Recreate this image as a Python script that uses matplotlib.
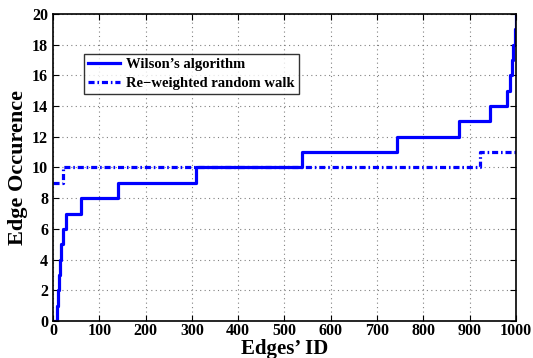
import matplotlib.pyplot as plt

# step breakpoints (edge ID where the count changes)
wilson_x = [4, 8, 11, 13, 15, 17, 21, 28, 60, 140, 308, 538, 743, 877, 944, 981, 987, 991, 994, 997, 1000]
wilson_y = [0, 1, 2, 3, 4, 5, 6, 7, 8, 9, 10, 11, 12, 13, 14, 15, 16, 17, 18, 19, 20]

rw_x = [1, 22, 922, 1000]
rw_y = [9, 10, 11, 11]

xticks = list(range(0, 1001, 100))
yticks = list(range(0, 21, 2))

plt.rcParams['font.family'] = ['Liberation Serif', 'DejaVu Serif']
plt.rcParams['font.weight'] = 'bold'

fig = plt.figure(figsize=(5.33, 3.58), dpi=100)
ax = fig.add_axes([0.0994, 0.1034, 0.8686, 0.8576])

ax.plot(wilson_x, wilson_y, drawstyle='steps-post', color='#0000ff', lw=2.3,
        label='Wilson’s algorithm')
ax.plot(rw_x, rw_y, drawstyle='steps-post', color='#0000ff', lw=2.3,
        linestyle=(0, (1.9, 0.9, 0.5, 0.9)), label='Re−weighted random walk')

ax.set_xlim(0, 1000)
ax.set_ylim(0, 20)
ax.set_xticks(xticks)
ax.set_yticks(yticks)
ax.tick_params(direction='in', top=True, right=True, labelsize=11.5, length=4)
ax.tick_params(axis='x', pad=1.5)
ax.tick_params(axis='y', pad=3.5)
for lab in ax.get_xticklabels() + ax.get_yticklabels():
    lab.set_fontweight('bold')
for s in ax.spines.values():
    s.set_linewidth(1.2)
ax.grid(True, linestyle=(0, (1, 3)), color='#808080', lw=0.8)

ax.set_xlabel('Edges’ ID', fontsize=15, fontweight='bold', labelpad=0)
ax.set_ylabel('Edge Occurence', fontsize=16, fontweight='bold', labelpad=3)

leg = ax.legend(loc='upper left', bbox_to_anchor=(0.067, 0.87), fontsize=10.5,
                frameon=True, fancybox=False, edgecolor='black', handlelength=2.2,
                handletextpad=0.4, borderpad=0.3, labelspacing=0.35, borderaxespad=0)
leg.get_frame().set_linewidth(1.0)
for t in leg.get_texts():
    t.set_fontweight('bold')

fig.savefig('out.png', dpi=100)
